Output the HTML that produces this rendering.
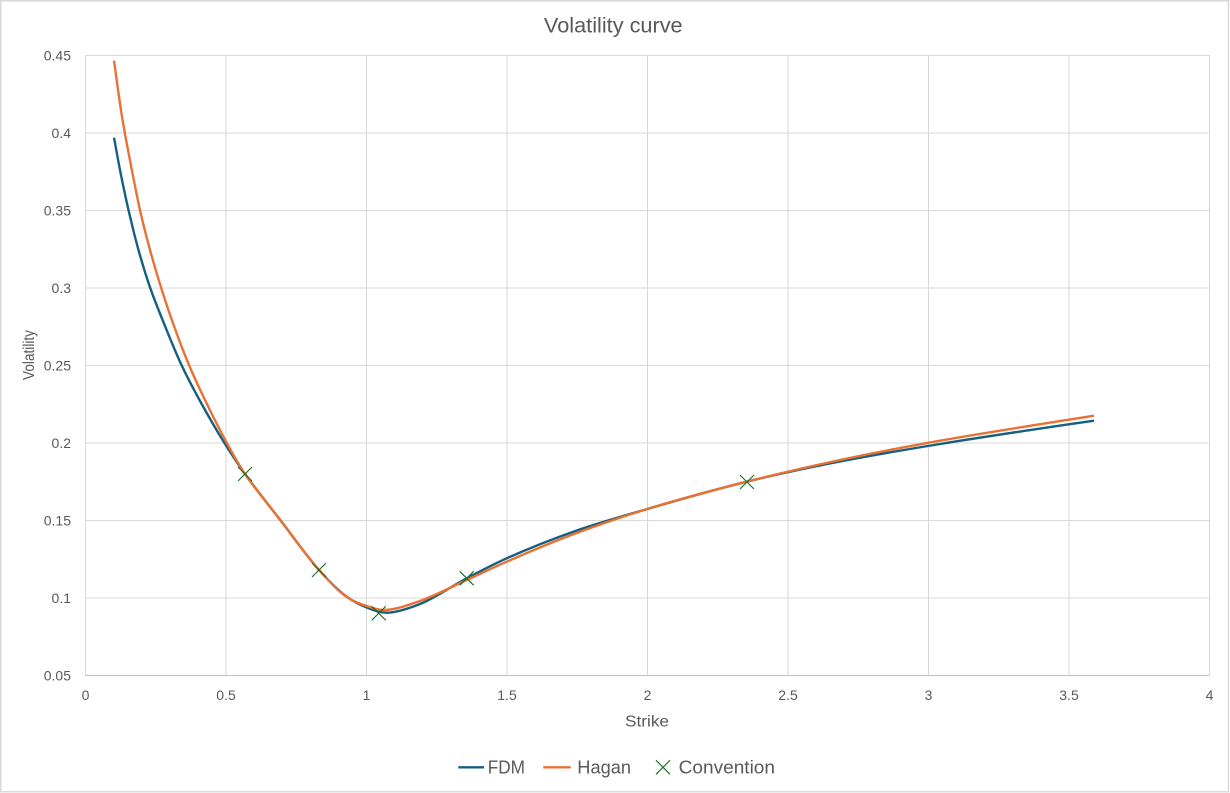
<!DOCTYPE html>
<html>
<head>
<meta charset="utf-8">
<style>
  html,body{margin:0;padding:0;background:#fff;}
  svg{display:block;}
  text{font-family:"Liberation Sans", sans-serif; fill:#595959;}
</style>
</head>
<body>
<svg id="chart" width="1230" height="793" viewBox="0 0 1230 793" xmlns="http://www.w3.org/2000/svg">
  <rect x="0" y="0" width="1230" height="793" fill="#fff"/>
  <rect x="0.75" y="0.75" width="1227.75" height="791" fill="none" stroke="#d9d9d9" stroke-width="1.5"/>

  <!-- gridlines -->
  <g stroke="#d9d9d9" stroke-width="1" shape-rendering="crispEdges">
    <line x1="85.5" y1="55.5" x2="1209.5" y2="55.5"/>
    <line x1="85.5" y1="133" x2="1209.5" y2="133"/>
    <line x1="85.5" y1="210.5" x2="1209.5" y2="210.5"/>
    <line x1="85.5" y1="288" x2="1209.5" y2="288"/>
    <line x1="85.5" y1="365.5" x2="1209.5" y2="365.5"/>
    <line x1="85.5" y1="443" x2="1209.5" y2="443"/>
    <line x1="85.5" y1="520.5" x2="1209.5" y2="520.5"/>
    <line x1="85.5" y1="598" x2="1209.5" y2="598"/>
    <line x1="85.5" y1="55.5" x2="85.5" y2="675.5"/>
    <line x1="226" y1="55.5" x2="226" y2="675.5"/>
    <line x1="366.5" y1="55.5" x2="366.5" y2="675.5"/>
    <line x1="507" y1="55.5" x2="507" y2="675.5"/>
    <line x1="647.5" y1="55.5" x2="647.5" y2="675.5"/>
    <line x1="788" y1="55.5" x2="788" y2="675.5"/>
    <line x1="928.5" y1="55.5" x2="928.5" y2="675.5"/>
    <line x1="1069" y1="55.5" x2="1069" y2="675.5"/>
    <line x1="1209.5" y1="55.5" x2="1209.5" y2="675.5"/>
  </g>
  <line x1="85.5" y1="675.5" x2="1209.5" y2="675.5" stroke="#bfbfbf" stroke-width="1" shape-rendering="crispEdges"/>

  <!-- title -->
  <text x="613.3" y="32.7" font-size="21" text-anchor="middle" textLength="138.7" lengthAdjust="spacingAndGlyphs">Volatility curve</text>

  <!-- y tick labels -->
  <g font-size="14" text-anchor="end">
    <text x="71" y="60.5">0.45</text>
    <text x="71" y="138">0.4</text>
    <text x="71" y="215.5">0.35</text>
    <text x="71" y="293">0.3</text>
    <text x="71" y="370.5">0.25</text>
    <text x="71" y="448">0.2</text>
    <text x="71" y="525.5">0.15</text>
    <text x="71" y="603">0.1</text>
    <text x="71" y="680.5">0.05</text>
  </g>
  <!-- x tick labels -->
  <g font-size="14" text-anchor="middle">
    <text x="85.5" y="700">0</text>
    <text x="226" y="700">0.5</text>
    <text x="366.5" y="700">1</text>
    <text x="507" y="700">1.5</text>
    <text x="647.5" y="700">2</text>
    <text x="788" y="700">2.5</text>
    <text x="928.5" y="700">3</text>
    <text x="1069" y="700">3.5</text>
    <text x="1209.5" y="700">4</text>
  </g>

  <!-- axis titles -->
  <text x="647" y="726.7" font-size="15.5" text-anchor="middle" textLength="44" lengthAdjust="spacingAndGlyphs">Strike</text>
  <text x="0" y="0" font-size="15.5" text-anchor="middle" textLength="50" lengthAdjust="spacingAndGlyphs" transform="translate(34,355) rotate(-90)">Volatility</text>

  <!-- series -->
  <path id="fdm" fill="none" stroke="#156082" stroke-width="2.4" stroke-linejoin="round" stroke-linecap="butt"
    d="M114,137.7 L120.8,174 L128.5,210 L138.5,250 L150,287.3 L165,326 L181.5,365 L199.5,400 L224,442.3 L245,474 L281,521 L319,570 L346.7,596.7 L366.7,607.5 L386.7,612.7 L420,604 L466.7,578.3 L506.7,558.3 L573.3,531.7 L647.3,509 L746.7,481.7 L840,461.5 L940,444 L1068.7,424.3 L1094,420.7"/>
  <path id="hagan" fill="none" stroke="#E97132" stroke-width="2.4" stroke-linejoin="round" stroke-linecap="butt"
    d="M114,60.7 L122,116.7 L130.5,163 L140,210 L150,250 L161,287.3 L174,326 L189,365 L205,400 L226.5,442.3 L245,474 L281.5,521.5 L319,570 L346.7,597 L366.7,606 L385,610 L420,601 L466.7,580 L506.7,561.7 L573.3,534.3 L647.3,509 L746.7,481.7 L840,460 L940,440.7 L1068.7,419.7 L1094,415.7"/>

  <!-- convention markers -->
  <g stroke="#196B24" stroke-width="1.1" fill="none">
    <path d="M238,467 L252,481 M252,467 L238,481"/>
    <path d="M312,563 L326,577 M326,563 L312,577"/>
    <path d="M371.7,606.3 L385.7,620.3 M385.7,606.3 L371.7,620.3"/>
    <path d="M459.7,571.3 L473.7,585.3 M473.7,571.3 L459.7,585.3"/>
    <path d="M740,475 L754,489 M754,475 L740,489"/>
  </g>

  <!-- legend -->
  <line x1="458.3" y1="767.3" x2="484" y2="767.3" stroke="#156082" stroke-width="2.4"/>
  <text x="487.7" y="773.3" font-size="18" textLength="37.3" lengthAdjust="spacingAndGlyphs">FDM</text>
  <line x1="543.3" y1="767.3" x2="570.7" y2="767.3" stroke="#E97132" stroke-width="2.4"/>
  <text x="577.3" y="773.3" font-size="18" textLength="53.7" lengthAdjust="spacingAndGlyphs">Hagan</text>
  <path d="M656,760.3 L670,774.3 M670,760.3 L656,774.3" stroke="#196B24" stroke-width="1.1" fill="none"/>
  <text x="678.7" y="773.3" font-size="18" textLength="96.3" lengthAdjust="spacingAndGlyphs">Convention</text>
</svg>
<script>
(function(){
  function dist(a,b){ var dx=a[0]-b[0], dy=a[1]-b[1]; return Math.sqrt(dx*dx+dy*dy); }
  function smooth(pts){
    var n = pts.length;
    var first = [2*pts[0][0]-pts[1][0], 2*pts[0][1]-pts[1][1]];
    var last = [2*pts[n-1][0]-pts[n-2][0], 2*pts[n-1][1]-pts[n-2][1]];
    var P = [first].concat(pts).concat([last]);
    var d = "M" + pts[0][0] + "," + pts[0][1];
    var a = 0.5;
    for (var i = 1; i < P.length - 2; i++) {
      var p0=P[i-1], p1=P[i], p2=P[i+1], p3=P[i+2];
      var d1=Math.pow(dist(p0,p1),a), d2=Math.pow(dist(p1,p2),a), d3=Math.pow(dist(p2,p3),a);
      if (d1 < 1e-6) d1 = 1e-6; if (d2 < 1e-6) d2 = 1e-6; if (d3 < 1e-6) d3 = 1e-6;
      var c1=[], c2=[];
      for (var k=0;k<2;k++){
        c1[k] = (d1*d1*p2[k] - d2*d2*p0[k] + (2*d1*d1 + 3*d1*d2 + d2*d2)*p1[k]) / (3*d1*(d1+d2));
        c2[k] = (d3*d3*p1[k] - d2*d2*p3[k] + (2*d3*d3 + 3*d3*d2 + d2*d2)*p2[k]) / (3*d3*(d3+d2));
      }
      d += " C" + c1[0].toFixed(2) + "," + c1[1].toFixed(2) + " " + c2[0].toFixed(2) + "," + c2[1].toFixed(2) + " " + p2[0] + "," + p2[1];
    }
    return d;
  }
  ["fdm","hagan"].forEach(function(id){
    var el = document.getElementById(id);
    var d = el.getAttribute("d").replace(/[ML]/g," ").trim().split(/\s+/);
    var pts = d.map(function(s){ var q = s.split(","); return [parseFloat(q[0]), parseFloat(q[1])]; });
    el.setAttribute("d", smooth(pts));
  });
})();
</script>
</body>
</html>
